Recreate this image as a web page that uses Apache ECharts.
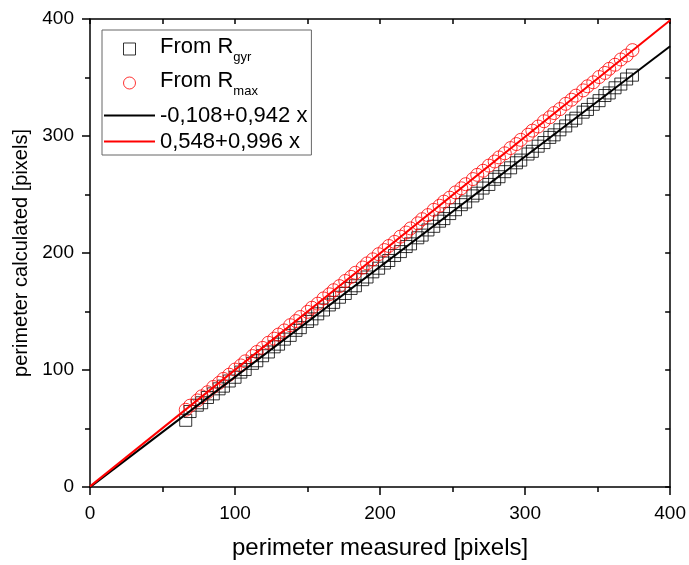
<!DOCTYPE html>
<html>
<head>
<meta charset="utf-8">
<script src="https://cdn.jsdelivr.net/npm/echarts@6/dist/echarts.min.js"></script>
<style>
  html, body { margin: 0; padding: 0; background: #fff; }
  #chart { width: 689px; height: 565px; }
</style>
</head>
<body>
<div id="chart"></div>
<script>
// measured perimeters (pixels), shared by both estimates
const measured = [66, 69, 74, 77, 81, 85, 89, 92, 96, 100, 104, 107, 112, 115, 119, 123, 127, 130, 134, 138,
  142, 145, 150, 153, 157, 161, 165, 168, 172, 176, 180, 183, 188, 191, 195, 199, 203, 206, 210, 214,
  218, 221, 226, 229, 233, 237, 241, 244, 248, 252, 256, 259, 264, 267, 271, 275, 279, 282, 286, 290,
  294, 297, 302, 305, 309, 313, 317, 320, 324, 328, 332, 335, 340, 343, 347, 351, 355, 358, 362, 366,
  370, 374];

// perimeter calculated from the radius of gyration
const fromRgyr = [57.0, 64.5, 69.9, 72.0, 76.5, 79.6, 83.9, 86.2, 90.6, 93.8, 98.2, 100.4, 105.7, 107.9, 112.2, 115.4, 119.8, 122.1, 126.4, 129.6,
  133.9, 136.2, 141.5, 143.7, 148.0, 151.3, 155.6, 157.8, 162.2, 165.4, 169.7, 172.0, 177.2, 179.5, 183.9, 187.0, 191.4, 193.6, 197.9, 201.2,
  205.5, 207.8, 213.0, 215.3, 219.7, 222.8, 227.2, 229.4, 233.7, 237.0, 241.3, 243.6, 248.8, 251.1, 255.5, 258.6, 263.0, 265.2, 269.5, 272.8,
  277.1, 279.4, 284.6, 286.9, 291.3, 294.4, 298.8, 301.0, 305.3, 308.6, 312.9, 315.2, 320.4, 322.7, 327.1, 330.2, 334.6, 336.8, 341.2, 344.4,
  348.7, 352.0];

// perimeter calculated from the maximum radius
const fromRmax = [66.0, 69.5, 74.0, 77.5, 81.0, 85.5, 89.0, 92.4, 96.0, 100.4, 103.9, 107.4, 111.9, 115.4, 118.9, 123.3, 126.8, 130.3, 133.8, 138.3,
  141.8, 145.3, 149.7, 153.2, 156.7, 161.2, 164.7, 168.2, 171.7, 176.1, 179.6, 183.1, 187.6, 191.1, 194.6, 199.0, 202.5, 206.0, 209.5, 214.0,
  217.5, 221.0, 225.4, 228.9, 232.4, 236.9, 240.4, 243.9, 247.3, 251.8, 255.3, 258.8, 263.2, 266.8, 270.3, 274.7, 278.2, 281.7, 285.2, 289.7,
  293.1, 296.7, 301.1, 304.6, 308.1, 312.6, 316.0, 319.6, 323.0, 327.5, 331.0, 334.5, 339.0, 342.5, 345.9, 350.4, 353.9, 357.4, 360.9, 365.4,
  368.8, 373.4];

// linear fits: intercept, slope
const fitGyr = [-0.108, 0.942];
const fitMax = [0.548, 0.996];
const fitRange = [0, 400];

const axisTicks = [0, 100, 200, 300, 400];

const FONT = 'Liberation Sans, Arial, Helvetica, sans-serif';

function fitLine(p) {
  return fitRange.map(x => [x, p[0] + p[1] * x]);
}
function fmt(v) {
  return v.toFixed(3).replace('.', ',');
}
const fitGyrName = fmt(fitGyr[0]) + '+' + fmt(fitGyr[1]) + ' x';
const fitMaxName = fmt(fitMax[0]) + '+' + fmt(fitMax[1]) + ' x';

const chart = echarts.init(document.getElementById('chart'), null, { renderer: 'canvas' });

const mainAxis = (pos) => ({
  type: 'value',
  position: pos,
  min: axisTicks[0],
  max: axisTicks[axisTicks.length - 1],
  interval: axisTicks[1] - axisTicks[0],
  axisLine: { show: true, onZero: false, lineStyle: { color: '#000', width: 1.5 } },
  axisTick: { show: true, inside: false, length: 8, lineStyle: { color: '#000', width: 1.5 } },
  minorTick: { show: true, splitNumber: 2, length: 5, lineStyle: { color: '#000', width: 1.5 } },
  splitLine: { show: false },
  axisLabel: { show: true, color: '#000', fontSize: 19, fontFamily: FONT, margin: 17 },
  nameLocation: 'middle',
  nameTextStyle: { color: '#000', fontSize: 24, fontFamily: FONT }
});

const mirrorAxis = (pos) => ({
  type: 'value',
  position: pos,
  min: axisTicks[0],
  max: axisTicks[axisTicks.length - 1],
  interval: axisTicks[1] - axisTicks[0],
  axisLine: { show: true, onZero: false, lineStyle: { color: '#000', width: 1.5 } },
  axisTick: { show: true, inside: true, length: 5, lineStyle: { color: '#000', width: 1.5 } },
  minorTick: { show: true, splitNumber: 2, length: 5, lineStyle: { color: '#000', width: 1.5 } },
  splitLine: { show: false },
  axisLabel: { show: false }
});

const xMain = Object.assign(mainAxis('bottom'), { name: 'perimeter measured [pixels]', nameGap: 49 });
const yMain = Object.assign(mainAxis('left'), { name: 'perimeter calculated [pixels]', nameGap: 58 });
yMain.axisLabel = Object.assign({}, yMain.axisLabel, { margin: 16 });
yMain.nameTextStyle = Object.assign({}, yMain.nameTextStyle, { fontSize: 20 });

// thin bar used as the legend key of the fitted lines
const lineKey = 'path://M0,0H51V2H0Z';

const option = {
  animation: false,
  backgroundColor: '#fff',
  grid: { left: 90, right: 17, top: 19, bottom: 78, containLabel: false },
  xAxis: [xMain, mirrorAxis('top')],
  yAxis: [yMain, mirrorAxis('right')],
  legend: {
    orient: 'vertical',
    left: 102,
    top: 30,
    padding: [6, 4, 2, 2],
    itemGap: 3,
    itemWidth: 51,
    itemHeight: 12,
    borderColor: '#666',
    borderWidth: 1,
    backgroundColor: '#fff',
    itemStyle: { borderWidth: 1 },
    textStyle: {
      color: '#000', fontSize: 22, fontFamily: FONT, lineHeight: 23,
      rich: {
        m: { fontSize: 22, fontFamily: FONT, color: '#000', lineHeight: 26, verticalAlign: 'top' },
        s: { fontSize: 13, fontFamily: FONT, color: '#000', lineHeight: 13, padding: [14.5, 0, 3.5, 0], verticalAlign: 'top' }
      }
    },
    formatter: function (name) {
      if (name === 'gyr') return '{m|From R}{s|gyr}';
      if (name === 'max') return '{m|From R}{s|max}';
      return name;
    },
    data: [
      { name: 'gyr', icon: 'path://M0,0L10,0L10,10L0,10Z' },
      { name: 'max', icon: 'circle' },
      { name: fitGyrName, icon: lineKey, itemStyle: { borderWidth: 0 } },
      { name: fitMaxName, icon: lineKey, itemStyle: { borderWidth: 0 } }
    ]
  },
  series: [
    {
      name: 'gyr',
      type: 'scatter',
      symbol: 'rect',
      symbolSize: 12,
      itemStyle: { color: 'transparent', borderColor: '#000', borderWidth: 1 },
      data: measured.map((x, i) => [x, fromRgyr[i]]),
      z: 2
    },
    {
      name: 'max',
      type: 'scatter',
      symbol: 'circle',
      symbolSize: 13,
      itemStyle: { color: 'transparent', borderColor: '#ff0000', borderWidth: 1 },
      data: measured.map((x, i) => [x, fromRmax[i]]),
      z: 3
    },
    {
      name: fitGyrName,
      type: 'line',
      symbol: 'none',
      lineStyle: { color: '#000', width: 2 },
      itemStyle: { color: '#000' },
      data: fitLine(fitGyr),
      z: 4
    },
    {
      name: fitMaxName,
      type: 'line',
      symbol: 'none',
      lineStyle: { color: '#ff0000', width: 2 },
      itemStyle: { color: '#ff0000' },
      data: fitLine(fitMax),
      z: 5
    }
  ]
};

chart.setOption(option);
</script>
</body>
</html>
